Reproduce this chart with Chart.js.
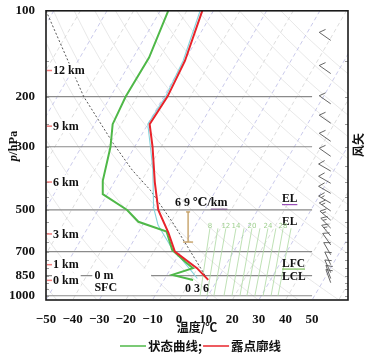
<!DOCTYPE html>
<html lang="zh">
<head>
<meta charset="UTF-8">
<title>Skew-T</title>
<script src="https://cdn.jsdelivr.net/npm/chart.js"></script>
<style>
    html, body { margin: 0; padding: 0; background: #fff; }
</style>
</head>
<body>
<canvas id="skewt" width="372" height="356"></canvas>
<script>
// profiles: pressure (hPa) and temperature (°C)
const redP   = [100, 150, 200, 250, 300, 400, 500, 600, 700, 800, 880];
const redT   = [-54.2, -49.8, -48.6, -49.3, -43.3, -34.7, -27.4, -18.7, -12.1, -0.2, 6.6];
const cyanP  = [100, 150, 200, 250, 300, 360, 490, 565, 665, 825, 870];
const cyanT  = [-55.0, -50.5, -49.3, -50.0, -44.1, -38.3, -29.7, -24.2, -15.3, -1.2, 2.2];
const greenP = [100, 146, 200, 250, 300, 395, 440, 500, 550, 595, 690, 760, 800, 845, 880];
const greenT = [-67.0, -64.0, -64.3, -63.2, -59.1, -54.6, -51.7, -39.1, -32.3, -19.6, -13.5, -6.0, -1.7, -8.0, 0.9];
const dotP   = [100, 200, 292, 362, 426, 551, 679, 851];
const dotT   = [-112.9, -80.1, -58.8, -45.9, -34.7, -19.5, -7.9, 4.6];

// thin green lines (axis values at their top, 580 hPa, and at 1000 hPa)
const mixTopX    = [11.6, 14.6, 17.6, 21.4, 24.4, 27.4, 30.4, 33.4, 36.4, 39.1, 42.1];
const mixBottomX = [7.9, 10.5, 13.1, 16.9, 19.9, 22.9, 25.5, 28.5, 31.6, 34.6, 37.2];
const mixLabels  = ['8', '', '12', '14', '', '20', '', '24', '', '28', ''];

// wind barbs
const windP   = [127, 166, 212, 248, 287, 324, 365, 403, 437, 473, 504, 543, 579, 617, 663, 718, 778, 830, 870, 900];
const windDir = [305, 305, 305, 305, 305, 305, 300, 300, 300, 300, 305, 310, 315, 320, 325, 330, 335, 335, 340, 340];
const windSpd = [10, 10, 10, 10, 10, 10, 10, 10, 10, 15, 15, 15, 15, 15, 10, 10, 10, 10, 10, 10];

// labels
const xTicks = [-50, -40, -30, -20, -10, 0, 10, 20, 30, 40, 50];
const pTicks = [100, 200, 300, 500, 700, 850, 1000];
const isobars = [200, 300, 500, 700, 850, 1000];
const heightLabels = ['12 km', '9 km', '6 km', '3 km', '1 km', '0 km'];
const heightP = [162, 254, 399, 607, 778, 883];
const levelLabels = ['EL', 'EL', 'LFC', 'LCL'];
const levelP = [458, 551, 771, 862];
const lapseP = [508, 648];

const SKEW = 62, PBOT = 1035;
const sx = (t, p) => t + SKEW * Math.log10(PBOT / p);
const prof = (P, T) => P.map((p, i) => ({ x: sx(T[i], p), y: p }));

const GREEN = '#4fb848', RED = '#e8242b', CYAN = '#86d3dc';

function lineSet(pts, color, width, dash) {
    return { data: pts, showLine: true, borderColor: color, borderWidth: width,
             borderDash: dash || [], pointRadius: 0, fill: false, tension: 0 };
}

// first dataset is drawn on top
const datasets = [
    Object.assign(lineSet(prof(redP, redT), RED, 2), { label: '露点廓线' }),
    Object.assign(lineSet(prof(greenP, greenT), GREEN, 2), { label: '状态曲线' }),
    lineSet(prof(cyanP, cyanT), CYAN, 1.1),
    lineSet([{ x: 3.4, y: lapseP[0] }, { x: 3.4, y: lapseP[1] }], '#c29a5c', 1.3),
    lineSet(prof(dotP, dotT), '#444', 0.9, [2, 2])
];
mixTopX.forEach((v, i) => {
    datasets.push(lineSet([{ x: v, y: 580 }, { x: mixBottomX[i], y: 1000 }], '#add9a1', 0.8));
});
isobars.forEach(p => {
    datasets.push(lineSet([{ x: -50, y: p }, { x: 50, y: p }], '#8a8a8a', 1.2));
});
for (let t = -130; t <= 60; t += 10) {
    const blue = Math.abs(t / 10) % 2 === 1;
    datasets.push(lineSet([{ x: sx(t, 100), y: 100 }, { x: sx(t, PBOT), y: PBOT }],
        blue ? '#bcbce6' : '#d4d4d4', 0.8, [4, 3]));
}
const adiaP = [];
for (let p = 100; p < PBOT; p += 25) adiaP.push(p);
adiaP.push(PBOT);
for (let th = 225; th <= 480; th += 15) {
    datasets.push(lineSet(adiaP.map(p => ({ x: sx(th * Math.pow(p / 1000, 0.286) - 273.15, p), y: p })),
        '#e2e2e2', 0.8));
}

function drawBarb(ctx, bx, by, dir, spd) {
    const r = dir * Math.PI / 180;
    const ux = Math.sin(r), uy = -Math.cos(r);   // towards where the wind comes from
    const px = Math.cos(r), py = Math.sin(r);    // feather side
    const L = 14;
    const tx = bx + ux * L, ty = by + uy * L;
    ctx.beginPath();
    ctx.moveTo(bx, by);
    ctx.lineTo(tx, ty);
    let s = spd, d = 0;
    const feather = (f) => {
        const fx = tx - ux * d, fy = ty - uy * d;
        ctx.moveTo(fx, fy);
        ctx.lineTo(fx + (px * 6 - ux * 3.5) * f, fy + (py * 6 - uy * 3.5) * f);
    };
    while (s >= 10) { feather(1); s -= 10; d += 3; }
    if (s >= 5) { if (d === 0) d = 3; feather(0.55); }
    ctx.stroke();
}

const decor = {
    id: 'decor',
    afterDatasetsDraw(chart) {
        const { ctx, chartArea: a, scales: { x, y } } = chart;
        const X = v => x.getPixelForValue(v), Y = p => y.getPixelForValue(p);
        const serif = s => 'bold ' + s + 'px "Liberation Serif", "DejaVu Serif", serif';
        const cjk = s => 'bold ' + s + 'px "Noto Sans CJK SC", sans-serif';
        const seg = (x1, y1, x2, y2) => { ctx.beginPath(); ctx.moveTo(x1, y1); ctx.lineTo(x2, y2); ctx.stroke(); };
        ctx.save();

        // small ticks on both spines
        ctx.strokeStyle = '#9a9a9a'; ctx.lineWidth = 1;
        for (let p = 150; p <= 1000; p += 50) {
            const yy = Math.round(Y(p)) + 0.5;
            seg(a.left, yy, a.left + 3, yy);
            seg(a.right - 3, yy, a.right, yy);
        }

        // height labels
        ctx.font = serif(12); ctx.textBaseline = 'middle'; ctx.textAlign = 'left';
        heightLabels.forEach((t, i) => {
            const yy = Y(heightP[i]);
            const w = ctx.measureText(t).width;
            ctx.fillStyle = '#fff'; ctx.fillRect(a.left + 6, yy - 7, w + 3, 14);
            ctx.strokeStyle = '#f07c7c'; ctx.lineWidth = 1.5; seg(a.left + 1, yy, a.left + 6, yy);
            ctx.fillStyle = '#111'; ctx.fillText(t, a.left + 7, yy + 0.5);
        });

        // surface block
        ctx.fillStyle = '#fff';
        ctx.fillRect(X(-32.6), Y(850) - 7, X(-10.5) - X(-32.6), Y(940) - Y(850) + 14);
        ctx.fillStyle = '#111';
        ctx.fillText('0 m', X(-31.8), Y(850) + 0.5);
        ctx.fillText('SFC', X(-31.8), Y(942));
        ctx.fillText('0 3 6', X(2.2), Y(944));

        // lapse-rate bar caps and label
        ctx.strokeStyle = '#c29a5c'; ctx.lineWidth = 1.3;
        seg(X(3.4) - 5, Y(lapseP[1]), X(3.4) + 5, Y(lapseP[1]));
        seg(X(3.4) - 2, Y(lapseP[0]), X(3.4) + 2, Y(lapseP[0]));
        const lt = '6 9 ℃/', lk = 'km';
        const lx = X(-1.5), ly = Y(473);
        ctx.fillStyle = '#111';
        ctx.fillText(lt, lx, ly);
        const lw = ctx.measureText(lt).width;
        ctx.fillText(lk, lx + lw, ly);
        ctx.strokeStyle = '#7a4d8c'; ctx.lineWidth = 1;
        seg(lx + lw, ly + 6, lx + lw + ctx.measureText(lk).width, ly + 6);

        // EL / LFC / LCL
        ctx.font = serif(11.5);
        levelLabels.forEach((t, i) => {
            const yy = Y(levelP[i]);
            ctx.fillStyle = '#111';
            ctx.fillText(t, X(38.7), yy);
            if (i === 0 || i === 2) {
                ctx.strokeStyle = i === 0 ? '#9b4fb8' : '#7cc05a'; ctx.lineWidth = 1.2;
                seg(X(38.7), yy + 5.5, X(38.7) + ctx.measureText(t).width, yy + 5.5);
            }
        });

        // labels on the thin green lines
        ctx.font = '7px "DejaVu Sans", sans-serif'; ctx.fillStyle = '#9fd08f'; ctx.textAlign = 'center';
        mixLabels.forEach((t, i) => { if (t) ctx.fillText(t, X(mixTopX[i]), Y(572)); });

        // wind barbs
        ctx.strokeStyle = '#555'; ctx.lineWidth = 0.9;
        windP.forEach((p, i) => drawBarb(ctx, X(57), Y(p), windDir[i], windSpd[i]));

        // frame
        ctx.strokeStyle = '#1a1a1a'; ctx.lineWidth = 1.6;
        ctx.strokeRect(a.left, a.top, a.right - a.left, a.bottom - a.top);

        // axis titles
        ctx.fillStyle = '#111'; ctx.textBaseline = 'middle';
        ctx.save();
        ctx.translate(14, 146); ctx.rotate(-Math.PI / 2);
        ctx.font = 'italic ' + serif(12.5);
        const wp = ctx.measureText('p').width;
        ctx.font = serif(12.5);
        const wr = ctx.measureText('/hPa').width;
        ctx.textAlign = 'left';
        ctx.font = 'italic ' + serif(12.5);
        ctx.fillText('p', -(wp + wr) / 2, 0);
        ctx.font = serif(12.5);
        ctx.fillText('/hPa', -(wp + wr) / 2 + wp, 0);
        ctx.restore();

        ctx.save();
        ctx.translate(358, 145); ctx.rotate(-Math.PI / 2);
        ctx.font = cjk(12); ctx.textAlign = 'center';
        ctx.fillText('风矢', 0, 0);
        ctx.restore();

        // legend
        const gy = 346;
        const ds = chart.data.datasets;
        ctx.font = cjk(12.5); ctx.textAlign = 'left';
        let lx0 = (a.left + a.right) / 2 - 77;
        [ds[1], ds[0]].forEach((d, k) => {
            const txt = k === 0 ? d.label + ';' : d.label;
            ctx.strokeStyle = d.borderColor; ctx.lineWidth = 1.5;
            seg(lx0, gy, lx0 + 26, gy);
            ctx.fillStyle = '#111';
            ctx.fillText(txt, lx0 + 28, gy);
            lx0 += 28 + ctx.measureText(txt).width + 1;
        });
        ctx.restore();
    }
};

new Chart(document.getElementById('skewt'), {
    type: 'scatter',
    data: { datasets: datasets },
    options: {
        responsive: false,
        animation: false,
        devicePixelRatio: 1,
        events: [],
        layout: { padding: { left: 0, top: 10, right: 24, bottom: 0 } },
        plugins: { legend: { display: false }, tooltip: { enabled: false } },
        scales: {
            x: {
                type: 'linear', min: -50, max: 63.5,
                grid: { display: false }, border: { display: false },
                afterBuildTicks: s => { s.ticks = xTicks.map(v => ({ value: v })); },
                afterFit: s => { s.height = 56; },
                ticks: {
                    padding: 4, color: '#111', autoSkip: false, maxRotation: 0,
                    font: { family: '"Liberation Serif", serif', size: 13, weight: 'bold' },
                    callback: v => v < 0 ? '\u2212' + (-v) : String(v)
                },
                title: {
                    display: true, text: '温度/℃', color: '#111',
                    font: { family: '"Noto Sans CJK SC", sans-serif', size: 12, weight: 'bold' },
                    padding: { top: 0, bottom: 21 }
                }
            },
            y: {
                type: 'logarithmic', reverse: true, min: 100, max: PBOT,
                grid: { display: false }, border: { display: false },
                afterBuildTicks: s => { s.ticks = pTicks.map(v => ({ value: v })); },
                afterFit: s => { s.width = 46; },
                ticks: {
                    padding: 3, color: '#111', autoSkip: false,
                    font: { family: '"Liberation Serif", serif', size: 13, weight: 'bold' },
                    callback: v => String(v)
                }
            }
        }
    },
    plugins: [decor]
});
</script>
</body>
</html>
